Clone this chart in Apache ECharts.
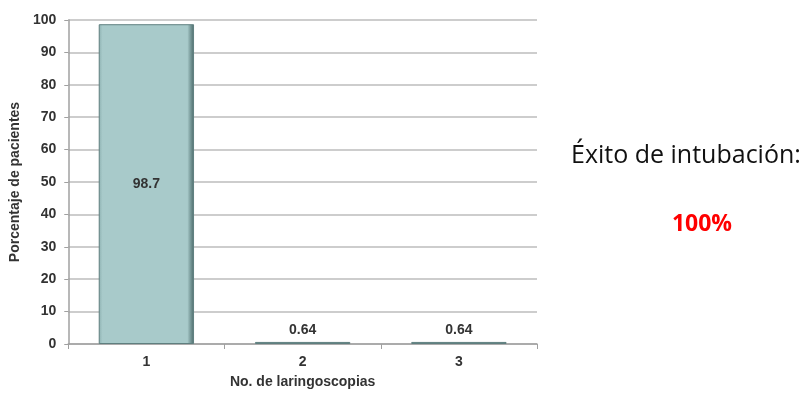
<!DOCTYPE html>
<html>
<head>
<meta charset="utf-8">
<script src="https://cdn.jsdelivr.net/npm/echarts@6/dist/echarts.min.js"></script>
<style>
  html, body { margin: 0; padding: 0; background: #fff; }
  #chart { width: 810px; height: 394px; }
</style>
</head>
<body>
<div id="chart"></div>
<script>
// Number of laryngoscopies and share of patients (%)
const categories = ['1', '2', '3'];
const percentages = [98.7, 0.64, 0.64];
const yTicks = { min: 0, max: 100, interval: 10 };
const sideTitle = 'Éxito de intubación:';
const sideValue = '100%';

const chart = echarts.init(document.getElementById('chart'), null, { renderer: 'canvas' });

const FONT = 'Liberation Sans, Arial, sans-serif';
const TEXT = '#333333';

// bevelled teal bar: lighter left rim, darker right rim
const barFill = {
  type: 'linear', x: 0, y: 0, x2: 1, y2: 0,
  colorStops: [
    { offset: 0, color: '#8db1b1' },
    { offset: 0.04, color: '#a8caca' },
    { offset: 0.93, color: '#a8caca' },
    { offset: 0.97, color: '#6f9090' },
    { offset: 1, color: '#4d6a6a' }
  ]
};

chart.setOption({
  animation: false,
  backgroundColor: '#ffffff',
  grid: { left: 66, right: 273, top: 20, bottom: 45, containLabel: false },
  xAxis: {
    type: 'category',
    data: categories,
    name: 'No. de laringoscopias',
    nameLocation: 'middle',
    nameGap: 31,
    nameTextStyle: { fontFamily: FONT, fontWeight: 'bold', fontSize: 14, color: TEXT },
    axisLine: { lineStyle: { color: '#a0a0a0', width: 1.5 } },
    axisTick: { show: true, alignWithLabel: false, length: 5, lineStyle: { color: '#a0a0a0' } },
    axisLabel: { fontFamily: FONT, fontWeight: 'bold', fontSize: 14, color: TEXT, margin: 11 }
  },
  yAxis: {
    type: 'value',
    min: yTicks.min, max: yTicks.max, interval: yTicks.interval,
    name: 'Porcentaje de pacientes',
    nameLocation: 'middle',
    nameGap: 42,
    nameRotate: 90,
    nameTextStyle: { fontFamily: FONT, fontWeight: 'bold', fontSize: 14, color: TEXT },
    axisLine: { show: true, lineStyle: { color: '#a0a0a0', width: 1.5 } },
    axisTick: { show: true, length: 4, lineStyle: { color: '#a0a0a0' } },
    axisLabel: { fontFamily: FONT, fontWeight: 'bold', fontSize: 14, color: TEXT, margin: 12 },
    splitLine: { lineStyle: { color: '#bdbdbd', width: 1.5 } }
  },
  series: [{
    type: 'bar',
    data: percentages.map(v => ({
      value: v,
      label: { position: v > 10 ? 'inside' : 'top', distance: 5 }
    })),
    barCategoryGap: '39%',
    itemStyle: { color: barFill, borderColor: '#5f7f7f', borderWidth: 1 },
    label: {
      show: true,
      fontFamily: FONT,
      fontWeight: 'bold',
      fontSize: 14,
      color: TEXT,
      formatter: p => String(p.value)
    }
  }],
  graphic: [
    {
      type: 'text', x: 571, y: 156,
      style: { text: sideTitle, font: '25px "Open Sans"', fill: '#111', align: 'left', verticalAlign: 'middle' }
    },
    {
      type: 'text', x: 702, y: 224,
      style: { text: sideValue, font: 'bold 23px "Open Sans"', fill: '#ff0000', align: 'center', verticalAlign: 'middle' }
    }
  ]
});
</script>
</body>
</html>
